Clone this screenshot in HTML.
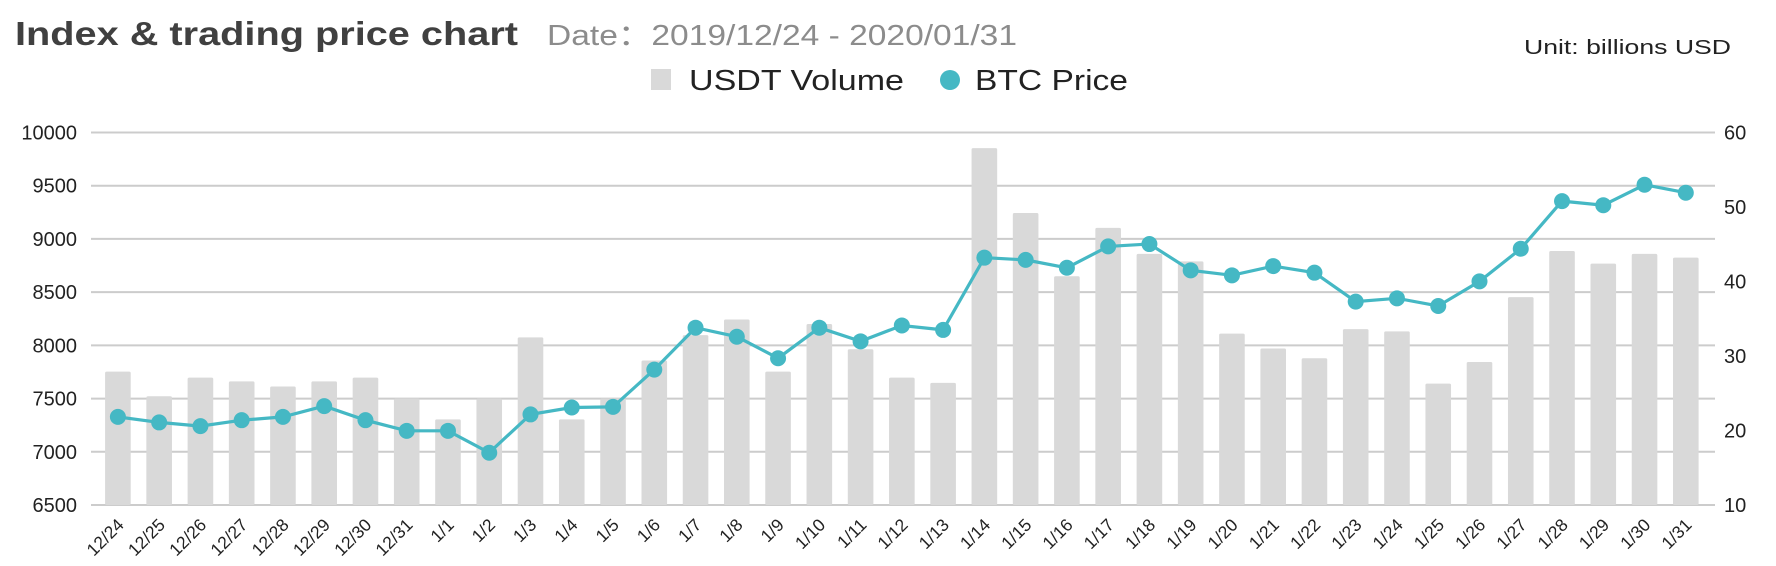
<!DOCTYPE html>
<html><head><meta charset="utf-8"><style>
html,body{margin:0;padding:0;background:#fff;}
svg{display:block;font-family:"Liberation Sans",Arial,sans-serif;}
</style></head><body>
<svg id="chart" width="1776" height="566" viewBox="0 0 1776 566" xmlns="http://www.w3.org/2000/svg">
<text x="15" y="45" font-size="33" font-weight="bold" fill="#404040" textLength="503" lengthAdjust="spacingAndGlyphs">Index &amp; trading price chart</text>
<text x="547" y="45" font-size="29" fill="#8c8c8c" textLength="470" lengthAdjust="spacingAndGlyphs">Date：2019/12/24 - 2020/01/31</text>
<text x="1731" y="54" font-size="20" fill="#222" text-anchor="end" textLength="207" lengthAdjust="spacingAndGlyphs">Unit: billions USD</text>
<g>
<rect x="651" y="69" width="20" height="21" fill="#d9d9d9"/>
<text x="689" y="90" font-size="29" fill="#222" textLength="215" lengthAdjust="spacingAndGlyphs">USDT Volume</text>
<circle cx="950" cy="80" r="10" fill="#45b8c4"/>
<text x="975" y="90" font-size="29" fill="#222" textLength="153" lengthAdjust="spacingAndGlyphs">BTC Price</text>
</g>
<g id="grid"></g><g id="bars"></g><g id="line"></g><g id="axes"></g>
</svg>
<script>
const categories=["12/24","12/25","12/26","12/27","12/28","12/29","12/30","12/31","1/1","1/2","1/3","1/4","1/5","1/6","1/7","1/8","1/9","1/10","1/11","1/12","1/13","1/14","1/15","1/16","1/17","1/18","1/19","1/20","1/21","1/22","1/23","1/24","1/25","1/26","1/27","1/28","1/29","1/30","1/31"];
const volume=[27.9,24.6,27.1,26.6,25.9,26.6,27.1,24.3,21.5,24.3,32.5,21.5,24.3,29.4,32.8,34.9,27.9,34.3,30.9,27.1,26.4,57.9,49.2,40.7,47.2,43.7,42.7,33.0,31.0,29.7,33.6,33.3,26.3,29.2,37.9,44.1,42.4,43.7,43.2];
const price=[7328,7276,7241,7297,7328,7429,7297,7197,7197,6991,7351,7416,7422,7772,8166,8081,7879,8166,8038,8187,8145,8824,8803,8729,8930,8952,8705,8658,8745,8683,8411,8442,8370,8601,8908,9355,9317,9509,9434];
const leftTicks=[6500,7000,7500,8000,8500,9000,9500,10000];
const rightTicks=[10,20,30,40,50,60];

const NS="http://www.w3.org/2000/svg";
const plotL=91,plotR=1715,plotT=132.5,plotB=505;
const x0=117.9,step=(1685.8-117.9)/38;
function xPos(i){return x0+i*step;}
function yL(v){return plotB-(v-6500)/(10000-6500)*(plotB-plotT);}
function yR(v){return plotB-(v-10)/(60-10)*(plotB-plotT);}
function mk(tag,attrs,parent){const e=document.createElementNS(NS,tag);for(const k in attrs)e.setAttribute(k,attrs[k]);parent.appendChild(e);return e;}
const grid=document.getElementById('grid'),bars=document.getElementById('bars'),line=document.getElementById('line'),axes=document.getElementById('axes');

leftTicks.forEach(t=>{
  const g=mk('line',{x1:plotL,x2:plotR,y1:yL(t),y2:yL(t),stroke:'#cccccc','stroke-width':2},grid);
  
  
  const lb=mk('text',{x:77,y:yL(t)+7,'font-size':20,'text-anchor':'end',fill:'#222'},axes);
  
  
  lb.textContent=t;
});
rightTicks.forEach(t=>{
  const lb=mk('text',{x:1724,y:yR(t)+7,'font-size':20,fill:'#222'},axes);
  
  
  lb.textContent=t;
});
const bw=25.6;
volume.forEach((v,i)=>{
  const y=yR(v);
  const b=mk('rect',{x:xPos(i)-bw/2,y:y,width:bw,height:plotB-y,fill:'#d9d9d9',rx:1.5},bars);
  
  
});
const pts=price.map((p,i)=>xPos(i).toFixed(1)+','+yL(p).toFixed(1)).join(' ');
const pl=mk('polyline',{points:pts,fill:'none',stroke:'#45b8c4','stroke-width':3.2},line);


price.forEach((p,i)=>{
  const c=mk('circle',{cx:xPos(i),cy:yL(p),r:8,fill:'#45b8c4'},line);
  
  
});
categories.forEach((c,i)=>{
  const x=xPos(i)+7,y=526;
  const t=mk('text',{x:x,y:y,'font-size':17.5,'text-anchor':'end',fill:'#222',transform:'rotate(-45 '+x+' '+y+')'},axes);
  
  
  t.textContent=c;
});
</script>
</body></html>
